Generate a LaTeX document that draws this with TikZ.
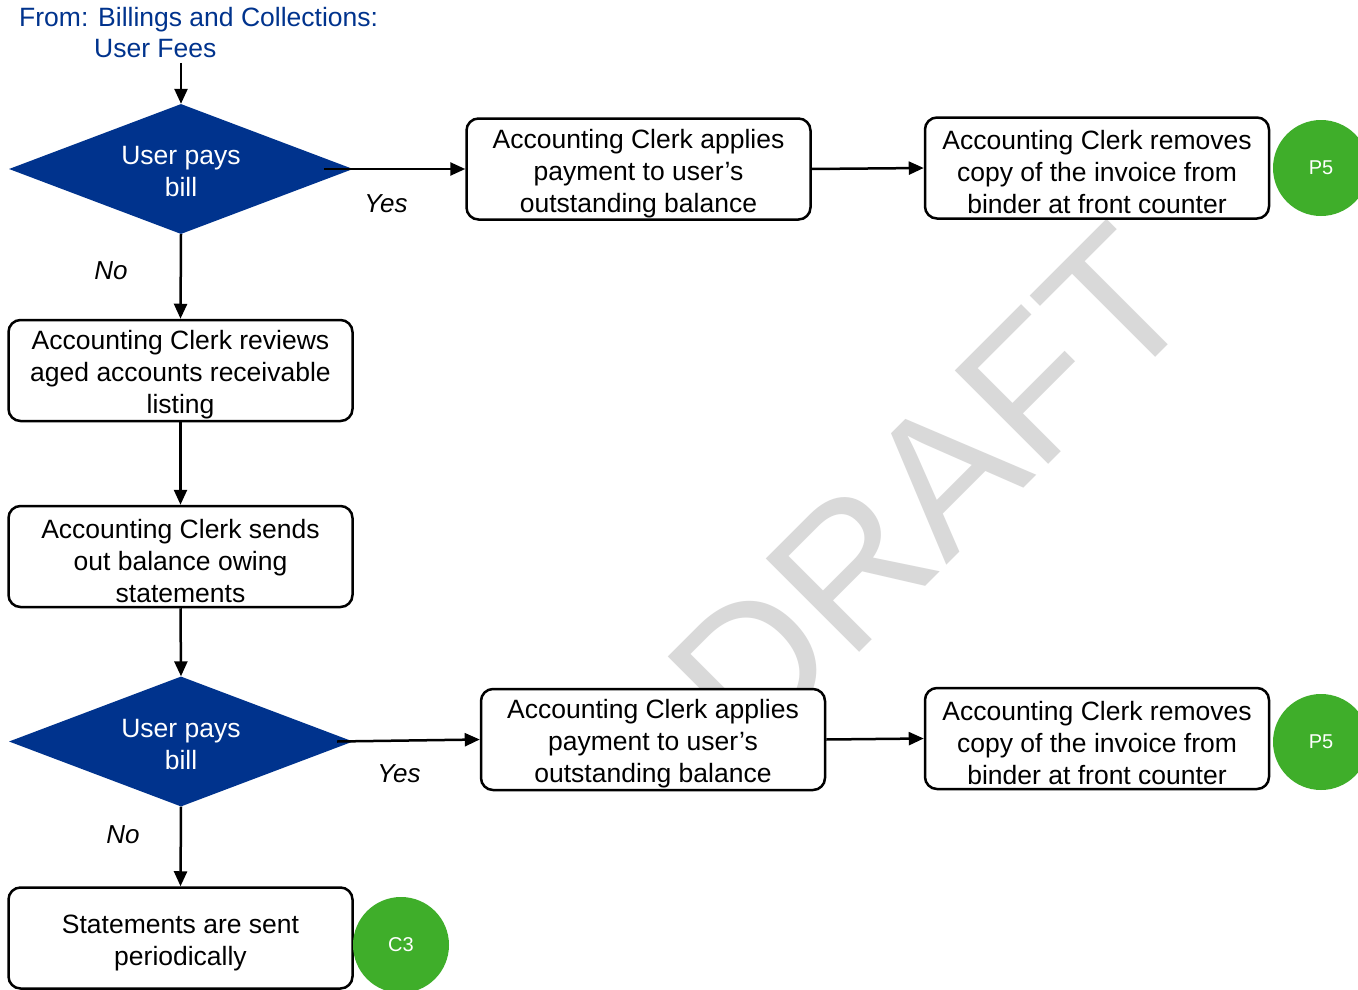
\documentclass[tikz,border=0pt]{standalone}
\usepackage{fontspec}
\setmainfont{Liberation Sans}
\usetikzlibrary{shapes.geometric,arrows.meta}
\definecolor{deciblue}{RGB}{0,51,141}
\definecolor{refgreen}{RGB}{63,174,42}
\definecolor{wmgray}{RGB}{217,217,217}
% tall struts on the first line push box texts slightly below centre
\newcommand{\boxtop}{\rule{0pt}{28pt}}
\newcommand{\diatop}{\rule{0pt}{23.5pt}}
\begin{document}
\begin{tikzpicture}[x=1pt,y=-1pt,
  txt/.style={font=\fontsize{26.5}{32}\selectfont},
  stepbox/.style={txt,draw=black,line width=2.5pt,fill=white,rounded corners=12pt,
    minimum width=344pt,minimum height=101pt,align=center,inner sep=0pt},
  decision/.style={txt,diamond,aspect=2.64,fill=deciblue,text=white,minimum width=344pt,
    minimum height=130pt,inner sep=0pt,align=center},
  connector/.style={circle,fill=refgreen,text=white,minimum size=96pt,inner sep=0pt,
    font=\fontsize{20}{24}\selectfont},
  flow/.style={line width=2.5pt,-{Triangle[length=15pt,width=13pt]}},
  answer/.style={inner sep=0pt,font=\fontsize{26}{32}\selectfont\itshape}]
\useasboundingbox (0,0) rectangle (1358,990);
\fill[white] (0,0) rectangle (1358,990);

% watermark behind the chart
\node[text=wmgray,rotate=45,inner sep=0pt,font=\fontsize{192}{192}\selectfont] (wm) at (930,489) {DRAFT};

% source of the flow
\node[txt,text=deciblue,align=left,anchor=north west,inner sep=0pt,
  font=\fontsize{26.5}{31}\selectfont] (src) at (19,7)
  {From: Billings and Collections:\\\hspace*{75pt}User Fees};
\coordinate (srcend) at (181,63);

% first decision and its yes-branch
\node[decision] (d1) at (181,169) {\diatop User pays\\bill};
\node[stepbox] (a1) at (638.5,169) {\boxtop Accounting Clerk applies\\payment to user's\\outstanding balance};
\node[stepbox] (b1) at (1097,168) {\boxtop Accounting Clerk removes\\copy of the invoice from\\binder at front counter};
\node[connector] (p1) at (1321,168) {P5};

% no-branch
\node[stepbox] (c) at (180.5,370.5) {\boxtop Accounting Clerk reviews\\aged accounts receivable\\listing};
\node[stepbox] (dd) at (180.5,556.5) {\boxtop Accounting Clerk sends\\out balance owing\\statements};

% second decision and its yes-branch
\node[decision] (d2) at (181,741.5) {\diatop User pays\\bill};
\node[stepbox] (a2) at (653,739.5) {\boxtop Accounting Clerk applies\\payment to user's\\outstanding balance};
\node[stepbox] (b2) at (1097,738.5) {\boxtop Accounting Clerk removes\\copy of the invoice from\\binder at front counter};
\node[connector] (p2) at (1321,742) {P5};

% end of the no-branch
\node[stepbox] (e) at (180.5,938) {\rule{0pt}{29pt}Statements are sent\\periodically};
\node[connector] (c3) at (401,945) {C3};

% branch labels
\node[answer] (y1) at (386,204) {Yes};
\node[answer] (n1) at (111,271) {No};
\node[answer] (y2) at (399,774) {Yes};
\node[answer] (n2) at (123,835) {No};

% connectors
\draw[flow] (srcend) -- (d1.north);
\draw[flow] ([xshift=-29pt]d1.east) -- (a1.west);
\draw[flow] (a1.east) -- (b1.west);
\draw[flow] (d1.south) -- (c.north);
\draw[flow] (c.south) -- (dd.north);
\draw[flow] (dd.south) -- (d2.north);
\draw[flow] ([xshift=-16pt]d2.east) -- (a2.west);
\draw[flow] (a2.east) -- (b2.west);
\draw[flow] (d2.south) -- (e.north);
\end{tikzpicture}
\end{document}
